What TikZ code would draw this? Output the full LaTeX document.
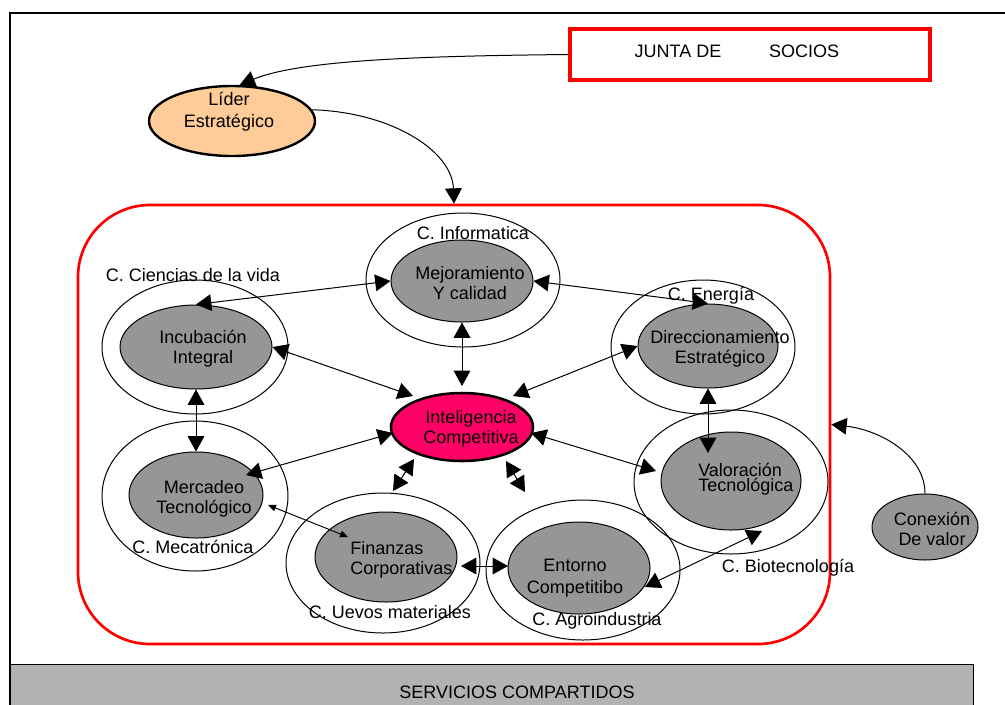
\documentclass[tikz,border=0pt]{standalone}
\usepackage{fontspec}
\setmainfont{Liberation Sans}
\usetikzlibrary{arrows.meta,shapes.geometric}
\definecolor{peach}{HTML}{FFCC99}
\definecolor{hotpink}{HTML}{FF0066}
\definecolor{midgray}{HTML}{969696}
\definecolor{bargray}{HTML}{B2B2B2}
\definecolor{redline}{HTML}{FF0000}
\begin{document}
\begin{tikzpicture}[x=0.75pt,y=-0.75pt,
  txt/.style={font=\fontsize{13.5}{15}\selectfont, inner sep=0pt, align=center},
  sz/.style 2 args={minimum width=#1*0.75pt, minimum height=#2*0.75pt},
  ring/.style={ellipse, draw, line width=0.75pt, inner sep=0pt},
  core/.style={ellipse, draw, fill=midgray, line width=0.75pt, inner sep=0pt},
  conn/.style={line width=0.75pt, {Triangle[length=11.5pt,width=12.5pt]}-{Triangle[length=11.5pt,width=12.5pt]}},
  oneway/.style={line width=0.75pt, -{Triangle[length=11.5pt,width=12.5pt]}},
  smallconn/.style={line width=0.75pt, {Triangle[length=6pt,width=5pt]}-{Triangle[length=6pt,width=5pt]}},
]
\useasboundingbox (0,0) rectangle (1005,704);
\fill[white] (0,0) rectangle (1005,704);

% frame
\draw[line width=1.5pt] (10,712) -- (10,13) -- (1012,13);

% bottom bar
\node[draw, fill=bargray, line width=0.75pt, sz={963}{50}, inner sep=0pt, anchor=north west] (bar) at (10,664) {};
\node[txt] (barT) at (517,692) {SERVICIOS COMPARTIDOS};

% junta
\node[draw=redline, line width=2.5pt, sz={360}{51}, inner sep=0pt] (junta) at (750,54.5) {};
\node[txt] (juntaT1) at (678,51) {JUNTA DE};
\node[txt] (juntaT2) at (804,51) {SOCIOS};

% lider
\node[ellipse, draw, fill=peach, line width=1.8pt, inner sep=0pt, sz={166}{70}] (lider) at (232,121) {};
\node[txt, font=\fontsize{13.5}{16.5}\selectfont] (liderT) at (229,112) {Líder\\Estratégico};

% cluster
\node[draw=redline, line width=2pt, rounded corners=54pt, sz={752}{439}, inner sep=0pt] (cluster) at (454,424.5) {};

% rings
\node[ring, sz={194}{134}] (infR) at (463,280) {};
\node[ring, sz={186}{134}] (cieR) at (195,347) {};
\node[ring, sz={184}{134}] (eneR) at (703,347) {};
\node[ring, sz={186}{150}] (mecR) at (195,496) {};
\node[ring, sz={194}{140}] (uevR) at (383,563) {};
\node[ring, sz={194}{140}] (agrR) at (583,570) {};
\node[ring, sz={194}{144}] (bioR) at (731,482) {};

% cores
\node[core, sz={142}{82}] (mej) at (462,281) {};
\node[core, sz={152}{84}] (inc) at (196,347) {};
\node[core, sz={140}{84}] (dir) at (708,346) {};
\node[core, sz={134}{86}] (merc) at (196,495) {};
\node[core, sz={142}{90}] (fin) at (386,557) {};
\node[core, sz={142}{92}] (ent) at (579,568) {};
\node[core, sz={140}{98}] (val) at (731,481) {};
\node[core, sz={106}{66}] (con) at (925,527) {};
\node[ellipse, draw, fill=hotpink, line width=1.9pt, inner sep=0pt, sz={142}{68}] (intel) at (462,427) {};

% core texts
\node[txt] (mejT) at (470,283) {Mejoramiento\\Y calidad};
\node[txt] (incT) at (203,349) {Incubación\\Integral};
\node[txt] (intelT) at (471,429) {Inteligencia\\Competitiva};
\node[txt] (dirT) at (720,349) {Direccionamiento\\Estratégico};
\node[txt] (mercT) at (204,499) {Mercadeo\\Tecnológico};
\node[txt, align=left, anchor=west] (finT) at (350,560) {Finanzas\\Corporativas};
\node[txt, font=\fontsize{13.5}{16.5}\selectfont] (entT) at (575,578) {Entorno\\Competitibo};
\node[txt, align=left, anchor=west, font=\fontsize{13.5}{10}\selectfont] (valT) at (698,479) {Valoración\\Tecnológica};
\node[txt] (conT) at (932,529) {Conexión\\De valor};

% cluster labels
\node[txt] (infL) at (473,233) {C. Informatica};
\node[txt] (cieL) at (193,275) {C. Ciencias de la vida};
\node[txt] (eneL) at (711,296) {C. Energía};
\node[txt] (mecL) at (193,547) {C. Mecatrónica};
\node[txt] (uevL) at (390,612) {C. Uevos materiales};
\node[txt] (agrL) at (597,621) {C. Agroindustria};
\node[txt] (bioL) at (788,568) {C. Biotecnología};

% helper coordinates for connector ends
\coordinate (i1) at (413,396);
\coordinate (i2) at (462,386);
\coordinate (i3) at (513,396);
\coordinate (i4) at (393,433);
\coordinate (i5) at (531,433);
\coordinate (i6) at (414,459);
\coordinate (i7) at (506,461);
\coordinate (m1) at (246,475);
\coordinate (m2) at (268,505);
\coordinate (f1) at (393,491);
\coordinate (f2) at (348,537);
\coordinate (f3) at (461,566);
\coordinate (e0) at (525,492);
\coordinate (e1) at (645,587);
\coordinate (e2) at (508,566);
\coordinate (v1) at (656,471);
\coordinate (v2) at (708,453);
\coordinate (b1) at (762,531);

% connectors
\draw[oneway] (junta.west) .. controls (420,56) and (300,60) .. (lider.78);
\draw[oneway] (lider.8) .. controls (390,112) and (452,150) .. (cluster.north);
\draw[oneway] (con.north) .. controls (925,455) and (880,430) .. (cluster.east);

\draw[conn] (inc.north) -- (mej.west);
\draw[conn] (mej.east) -- (dir.north);
\draw[conn] (inc.east) -- (i1);
\draw[conn] (mej.south) -- (i2);
\draw[conn] (dir.west) -- (i3);
\draw[conn] (inc.south) -- (merc.north);
\draw[conn] (i4) -- (m1);
\draw[conn] (i5) -- (v1);
\draw[conn] (dir.south) -- (v2);
\draw[conn] (i6) -- (f1);
\draw[conn] (i7) -- (e0);
\draw[smallconn] (m2) -- (f2);
\draw[conn] (f3) -- (e2);
\draw[conn] (e1) -- (b1);
\end{tikzpicture}
\end{document}
